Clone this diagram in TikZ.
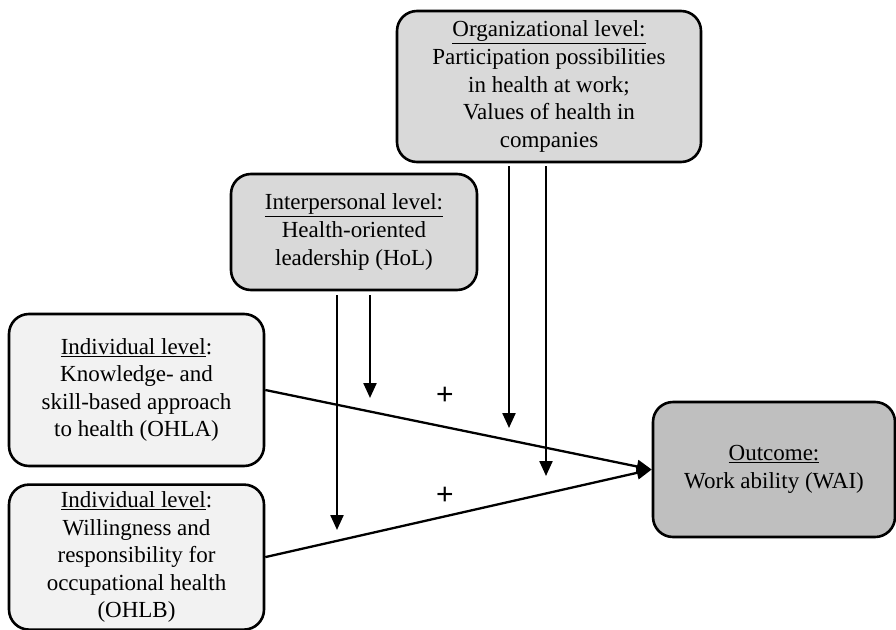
\documentclass[tikz,border=0pt]{standalone}
\usepackage{fontspec}
\setmainfont{Liberation Serif}
\newfontfamily\signfont{Liberation Sans}
\usetikzlibrary{positioning,arrows.meta}

\definecolor{orgfill}{RGB}{217,217,217}
\definecolor{indfill}{RGB}{242,242,242}
\definecolor{outfill}{RGB}{191,191,191}

\begin{document}
\begin{tikzpicture}[x=1pt,y=-1pt,
		levelbox/.style={rectangle,draw,rounded corners=20pt,line width=2.6pt,
			align=center,inner sep=0pt,font=\fontsize{23}{27.6}\selectfont},
		modarrow/.style={-{Triangle[width=13pt,length=15pt]},line width=2.3pt},
		sign/.style={font=\signfont\fontsize{30}{36}\selectfont,inner sep=0pt}
		]
		\useasboundingbox (0,0) rectangle (896,629);

		% levels
		\node[levelbox, fill=orgfill, minimum width=304pt, minimum height=151pt](org) at (549,86.5)
			{\underline{Organizational level:}\\Participation possibilities\\in health at work;\\Values of health in\\companies};
		\node[levelbox, fill=orgfill, minimum width=246pt, minimum height=116pt](hol) at (354,232)
			{\underline{Interpersonal level:}\\Health-oriented\\leadership (HoL)};
		\node[levelbox, fill=indfill, minimum width=255pt, minimum height=152pt](ohla) at (136.5,390)
			{\underline{Individual level}:\\Knowledge- and\\skill-based approach\\to health (OHLA)};
		\node[levelbox, fill=indfill, minimum width=255pt, minimum height=145pt, below=16pt of ohla](ohlb)
			{\underline{Individual level}:\\Willingness and\\responsibility for\\occupational health\\(OHLB)};
		\node[levelbox, fill=outfill, minimum width=242pt, minimum height=135pt](wai) at (774,469.5)
			{\underline{Outcome:}\\Work ability (WAI)};

		% direct effects
		\draw[modarrow] (ohla.east) -- (wai.west);
		\draw[modarrow] (ohlb.east) -- (wai.west);
		\node[sign](p1) at (445,396){+};
		\node[sign](p2) at (445,496){+};

		% moderating arrows
		\coordinate (h1) at (337,530);
		\coordinate (h2) at (370,398);
		\coordinate (o1) at (509,428);
		\coordinate (o2) at (546,476);
		\draw[modarrow, shorten <=4pt] (hol.south -| h1) -- (h1);
		\draw[modarrow, shorten <=4pt] (hol.south -| h2) -- (h2);
		\draw[modarrow, shorten <=3pt] (org.south -| o1) -- (o1);
		\draw[modarrow, shorten <=3pt] (org.south -| o2) -- (o2);
	\end{tikzpicture}
\end{document}
